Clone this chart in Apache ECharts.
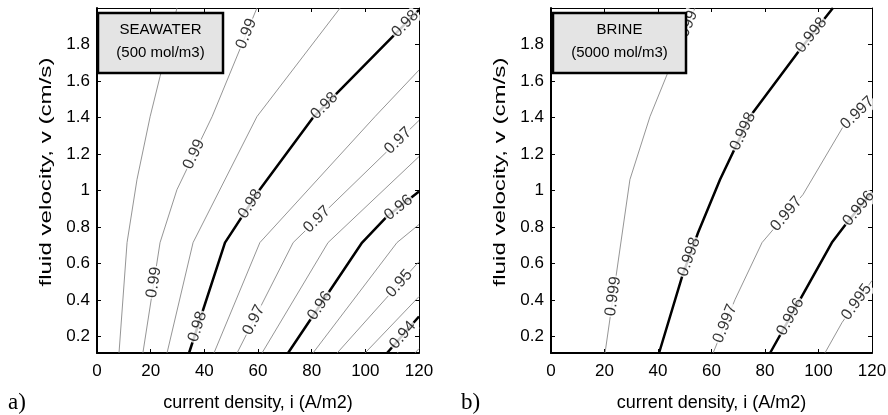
<!DOCTYPE html>
<html><head><meta charset="utf-8">
<script src="https://cdn.jsdelivr.net/npm/echarts@6/dist/echarts.min.js"></script>
<style>html,body{margin:0;padding:0;background:#fff}#c{width:888px;height:415px}</style>
</head><body><div id="c"></div>
<script>
// ---------- data ----------
const xTicks = [0, 20, 40, 60, 80, 100, 120];
const yTicks = [0.2, 0.4, 0.6, 0.8, 1, 1.2, 1.4, 1.6, 1.8];
const xName = 'current density, i (A/m2)';
const yName = 'fluid velocity, v (cm/s)';

// a) seawater contour lines, points [i (A/m2), v (cm/s)]
const sea995 = [[8.2,0.11],[11.2,0.715],[14.9,1.06],[19.8,1.405],[23.5,1.625],[29.8,2.0]];
const sea990 = [[17.1,0.11],[23.5,0.715],[29.8,1.005],[42.9,1.405],[59.6,2.0]];
const sea985 = [[26.1,0.11],[35.8,0.715],[59.6,1.405],[90.6,2.0]];
const sea980 = [[34.3,0.11],[47.7,0.715],[60.4,1.0],[80.8,1.405],[120,1.99]];
const sea975 = [[43.6,0.11],[60.7,0.715],[103.6,1.405],[120,1.66]];
const sea970 = [[52.2,0.11],[73.1,0.715],[120,1.384]];
const sea965 = [[61.5,0.11],[86.1,0.715],[120,1.186]];
const sea960 = [[71.2,0.11],[98.8,0.715],[108.1,0.858],[120,0.995]];
const sea955 = [[80.5,0.11],[111.8,0.715],[120,0.814]];
const sea950 = [[89.5,0.11],[120,0.611]];
const sea945 = [[99.9,0.11],[120,0.419]];
const sea940 = [[108.1,0.11],[120,0.31]];
const sea935 = [[118.5,0.11],[120,0.134]];
const seaMajor = ['0.98', '0.96', '0.94'];
const seaLabels = [[21.6,0.496,'0.99'],[34.7,1.208,'0.99'],[54.4,1.866,'0.99'],
  [37.3,0.255,'0.98'],[56.3,0.934,'0.98'],[85,1.46,'0.98'],[114,1.926,'0.98'],
  [58.1,0.293,'0.97'],[83.1,0.825,'0.97'],[112.9,1.263,'0.97'],
  [82.4,0.375,'0.96'],[112.9,0.896,'0.96'],[111.8,0.501,'0.95'],[113.7,0.211,'0.94']];

// b) brine contour lines
const bri999 = [[20.2,0.11],[29.5,1.06],[37.0,1.405],[43.4,1.636],[53.8,2.0]];
const bri998 = [[40.4,0.11],[49.0,0.529],[55.0,0.77],[63.2,1.06],[74.4,1.405],[93.1,1.773],[105.4,2.0]];
const bri997 = [[60.6,0.11],[68.8,0.403],[78.9,0.715],[94.2,0.978],[109.2,1.35],[120,1.5]];
const bri996 = [[81.9,0.11],[93.1,0.403],[105.0,0.715],[110.7,0.825],[120,0.99]];
const bri995 = [[102.4,0.11],[108.8,0.277],[120,0.507]];
const briMajor = ['0.998', '0.996'];
const briLabels = [[23.9,0.419,'0.999'],[50.1,1.882,'0.999'],
  [51.2,0.638,'0.998'],[71.8,1.323,'0.998'],[97.9,1.844,'0.998'],
  [65.8,0.266,'0.997'],[87.5,0.879,'0.997'],[114.4,1.427,'0.997'],
  [89.3,0.31,'0.996'],[115.5,0.896,'0.996'],[112.9,0.403,'0.995']];

const panelTitles = [['SEAWATER', '(500 mol/m3)'], ['BRINE', '(5000 mol/m3)']];
const panelTags = ['a)', 'b)'];

// ---------- chart ----------
const seaLines = [['0.995',sea995],['0.99',sea990],['0.985',sea985],['0.98',sea980],['0.975',sea975],
  ['0.97',sea970],['0.965',sea965],['0.96',sea960],['0.955',sea955],['0.95',sea950],['0.945',sea945],
  ['0.94',sea940],['0.935',sea935]];
const briLines = [['0.999',bri999],['0.998',bri998],['0.997',bri997],['0.996',bri996],['0.995',bri995]];

const FONT = 'Liberation Sans, Arial, sans-serif';
const grids = [
  {left: 97, top: 8, width: 322, height: 345, outerBoundsMode: 'none', containLabel: false},
  {left: 551, top: 8, width: 321, height: 345, outerBoundsMode: 'none', containLabel: false}
];
const fmt = v => String(+(+v).toFixed(1));
const xAxes = [], yAxes = [];
grids.forEach((g, gi) => {
  xAxes.push({type:'value', gridIndex: gi, position:'bottom', min: 0, max: 120, interval: 20,
    axisLine:{show:true, onZero:false, lineStyle:{color:'#000', width:2}},
    axisTick:{show:true, inside:true, length:4, lineStyle:{color:'#000'}},
    axisLabel:{show:true, color:'#000', fontSize:17, fontFamily:FONT, margin:10,
      customValues: xTicks, formatter: v => String(v)},
    splitLine:{show:false},
    name: xName, nameLocation:'middle', nameGap: 41,
    nameTextStyle:{color:'#000', fontSize:18, fontFamily:FONT}});
  xAxes.push({type:'value', gridIndex: gi, position:'top', min: 0, max: 120, interval: 20,
    axisLine:{show:true, onZero:false, lineStyle:{color:'#000', width:1}},
    axisTick:{show:true, inside:true, length:4, lineStyle:{color:'#000'}},
    axisLabel:{show:false}, splitLine:{show:false}});
  yAxes.push({type:'value', gridIndex: gi, position:'left', min: 0.11, max: 2.0,
    axisLine:{show:true, onZero:false, lineStyle:{color:'#000', width:2}},
    axisTick:{show:true, inside:true, length:4, lineStyle:{color:'#000'}, customValues: yTicks},
    axisLabel:{show:true, color:'#000', fontSize:17, fontFamily:FONT, margin:7,
      customValues: yTicks, formatter: fmt},
    splitLine:{show:false}});
  yAxes.push({type:'value', gridIndex: gi, position:'right', min: 0.11, max: 2.0,
    axisLine:{show:true, onZero:false, lineStyle:{color:'#000', width:1}},
    axisTick:{show:true, inside:true, length:4, lineStyle:{color:'#000'}, customValues: yTicks},
    axisLabel:{show:false}, splitLine:{show:false}});
});

function lineSeriesFor(lines, major, gi) {
  return lines.map(([lvl, pts]) => {
    const isMajor = major.indexOf(lvl) >= 0;
    return {type:'line', xAxisIndex: gi*2, yAxisIndex: gi*2, data: pts, symbol:'none',
      clip: true, silent: true, z: 2, animation: false,
      lineStyle: {color: isMajor ? '#000' : '#7a7a7a', width: isMajor ? 2.5 : 0.8}};
  });
}
const series = [].concat(lineSeriesFor(seaLines, seaMajor, 0), lineSeriesFor(briLines, briMajor, 1));
const seaFirst = 0, briFirst = seaLines.length;

const graphics = [];
// boxes with panel titles
[[98, 13, 125, 60], [553, 13, 133, 60]].forEach((r, i) => {
  graphics.push({type:'rect', z: 100, shape:{x:r[0], y:r[1], width:r[2], height:r[3]},
    style:{fill:'#e4e4e4', stroke:'#000', lineWidth:2.5}});
  graphics.push({type:'text', z: 101, x: r[0] + r[2]/2, y: 30,
    style:{text: panelTitles[i][0], fill:'#000', font:'15px ' + FONT, align:'center', verticalAlign:'middle'}});
  graphics.push({type:'text', z: 101, x: r[0] + r[2]/2, y: 53,
    style:{text: panelTitles[i][1], fill:'#000', font:'15px ' + FONT, align:'center', verticalAlign:'middle'}});
});
// white masks to clip contour labels at the frame edges
graphics.push({type:'rect', z: 90, shape:{x:420, y:0, width:28, height:352}, style:{fill:'#fff'}});
graphics.push({type:'rect', z: 90, shape:{x:873, y:0, width:15, height:352}, style:{fill:'#fff'}});
graphics.push({type:'rect', z: 90, shape:{x:90, y:0, width:798, height:7}, style:{fill:'#fff'}});
// y-axis titles
[46, 500].forEach(cx => {
  graphics.push({type:'text', z: 101, x: cx, y: 172, rotation: Math.PI/2, scaleX: 1.42,
    style:{text: yName, fill:'#000', font:'17px ' + FONT, align:'center', verticalAlign:'middle'}});
});
// panel tags
[[8, panelTags[0]], [461, panelTags[1]]].forEach(([x, t]) => {
  graphics.push({type:'text', z: 101, x: x, y: 403,
    style:{text: t, fill:'#000', font:'23px Liberation Serif, Times New Roman, serif', align:'left', verticalAlign:'middle'}});
});

const chart = echarts.init(document.getElementById('c'), null, {renderer:'canvas'});
chart.setOption({animation:false, backgroundColor:'#fff', grid: grids, xAxis: xAxes, yAxis: yAxes,
  series: series, graphic: graphics});

// place contour labels on their lines, rotated along them
function buildLabels(labels, lines, firstSeries) {
  const finder = {seriesIndex: firstSeries};
  return labels.map(([x, v, t]) => {
    const line = lines.find(l => l[0] === t);
    const P = chart.convertToPixel(finder, [x, v]);
    let best = null;
    const pts = line[1].map(p => chart.convertToPixel(finder, p));
    for (let i = 0; i < pts.length - 1; i++) {
      const a = pts[i], b = pts[i+1];
      const dx = b[0]-a[0], dy = b[1]-a[1];
      let s = ((P[0]-a[0])*dx + (P[1]-a[1])*dy) / (dx*dx + dy*dy);
      s = Math.max(0, Math.min(1, s));
      const q = [a[0]+s*dx, a[1]+s*dy];
      const d = Math.hypot(P[0]-q[0], P[1]-q[1]);
      if (!best || d < best.d) {
        let ang = Math.atan2(-dy, dx) * 180 / Math.PI;
        if (ang > 90) ang -= 180;
        if (ang < -90) ang += 180;
        best = {d, q, ang};
      }
    }
    return {value: chart.convertFromPixel(finder, best.q),
      label: {rotate: best.ang, formatter: t}};
  });
}
function labelSeries(data, gi) {
  return {type:'scatter', xAxisIndex: gi*2, yAxisIndex: gi*2, data: data, symbol:'circle', symbolSize: 1,
    itemStyle:{color:'rgba(0,0,0,0)'}, z: 5, silent: true, animation: false, clip: false,
    label:{show:true, position:'inside', color:'#000', fontSize:16, fontFamily: FONT,
      backgroundColor:'#fff', padding:[0,1]}};
}
const seaLab = buildLabels(seaLabels, seaLines, seaFirst);
const briLab = buildLabels(briLabels, briLines, briFirst);
chart.setOption({series: series.concat([labelSeries(seaLab, 0), labelSeries(briLab, 1)])});
</script>
</body></html>
